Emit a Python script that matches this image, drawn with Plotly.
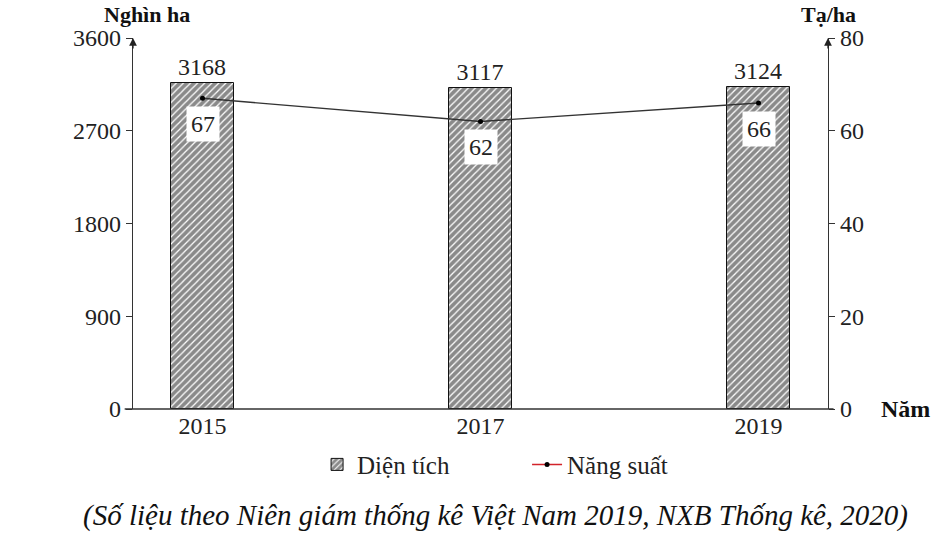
import plotly.graph_objects as go

years = ["2015", "2017", "2019"]
dien_tich = [3168, 3117, 3124]   # nghìn ha
nang_suat = [67, 62, 66]         # tạ/ha

area_ticks = [0, 900, 1800, 2700, 3600]
yield_ticks = [0, 20, 40, 60, 80]

serif = "Liberation Serif"
fsize = 24

fig = go.Figure()

fig.add_trace(go.Bar(
    x=years, y=dien_tich, name="Diện tích",
    width=0.225,
    marker=dict(color="white", line=dict(color="#111", width=1),
                pattern=dict(shape="/", fgcolor="#151515", bgcolor="white",
                             size=5, solidity=0.75)),
    text=dien_tich, textposition="outside", cliponaxis=False,
    textfont=dict(family=serif, size=fsize, color="#222"),
))

fig.add_trace(go.Scatter(
    x=years, y=nang_suat, yaxis="y2", mode="lines+markers",
    line=dict(color="#333", width=1.4),
    marker=dict(color="black", size=5),
    showlegend=False,
))

# legend entry only (the legend shows a red line)
fig.add_trace(go.Scatter(
    x=[None], y=[None], yaxis="y2", mode="lines+markers", name="Năng suất",
    line=dict(color="#d2232a", width=1.5),
    marker=dict(color="black", size=5),
))

# value boxes for the yield line
for i, v in enumerate(nang_suat):
    fig.add_annotation(x=i, y=v, xref="x", yref="y2", text=str(v),
                       showarrow=False, yshift=-26, bgcolor="white",
                       borderpad=4,
                       font=dict(family=serif, size=fsize, color="#222"))

fig.update_layout(
    width=946, height=537,
    margin=dict(l=133, r=118, t=38, b=128),
    paper_bgcolor="white", plot_bgcolor="white",
    font=dict(family=serif, size=fsize, color="#222"),
    bargap=0,
    xaxis=dict(range=[-0.25, 2.25], showline=False, ticks="",
               tickfont=dict(size=fsize), showgrid=False),
    yaxis=dict(range=[0, 3600], tickvals=area_ticks, showline=True,
               linecolor="#333", linewidth=1.3, ticks="outside", ticklen=6,
               tickcolor="#333", showgrid=False, zeroline=False),
    yaxis2=dict(range=[0, 80], tickvals=yield_ticks, overlaying="y",
                side="right", showline=True, linecolor="#333", linewidth=1.3,
                ticks="outside", ticklen=6, tickcolor="#333",
                showgrid=False, zeroline=False),
    legend=dict(orientation="h", x=0.567, xanchor="center", y=-0.15,
                yanchor="middle", entrywidth=165,
                font=dict(family=serif, size=25, color="#222")),
)

# x axis baseline, a little longer than the plot area
fig.add_shape(type="line", xref="paper", yref="paper", x0=-0.012, x1=1.008,
              y0=0, y1=0, line=dict(color="#333", width=1.3))

# arrow heads on the two value axes
for xp in [0, 1]:
    fig.add_annotation(xref="paper", yref="paper", x=xp, y=1.0, ax=0, ay=12,
                       showarrow=True, arrowhead=2, arrowsize=1.2,
                       arrowwidth=1.3, arrowcolor="#222", text="")

fig.add_annotation(xref="paper", yref="paper", x=0.02, y=1.062,
                   xanchor="center", yanchor="middle",
                   text="<b>Nghìn ha</b>", showarrow=False,
                   font=dict(family=serif, size=22, color="#111"))
fig.add_annotation(xref="paper", yref="paper", x=1.0, y=1.062,
                   xanchor="center", yanchor="middle",
                   text="<b>Tạ/ha</b>", showarrow=False,
                   font=dict(family=serif, size=22, color="#111"))
fig.add_annotation(xref="paper", yref="paper", x=1.112, y=0.0,
                   xanchor="center", yanchor="middle",
                   text="<b>Năm</b>", showarrow=False,
                   font=dict(family=serif, size=fsize, color="#111"))
fig.add_annotation(xref="paper", yref="paper", x=0.521, y=-0.286,
                   xanchor="center", yanchor="middle",
                   text="<i>(Số liệu theo Niên giám thống kê Việt Nam 2019, NXB Thống kê, 2020)</i>",
                   showarrow=False,
                   font=dict(family=serif, size=29, color="#111"))

# drop the page's default body margin so the figure fills the window
fig.write_html("out.html", config={"displayModeBar": False},
               post_script="document.body.style.margin='0';")
